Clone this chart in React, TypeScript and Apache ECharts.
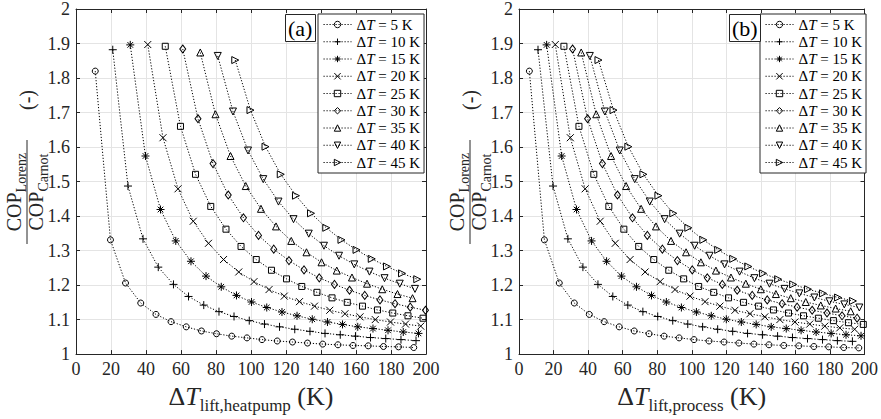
import { useEffect, useRef } from "react";
import * as echarts from "echarts";

// Temperature glides of the two streams (K)
const glides = [5, 10, 15, 20, 25, 30, 35, 40, 45];

// Heat-pump temperature lift (K) and COP_Lorenz / COP_Carnot for each glide
const lift5 = [11, 19.7, 28.3, 37, 45.7, 54.3, 63, 71.7, 80.3, 89, 97.7, 106.3, 115, 123.7, 132.3, 141, 149.7, 158.3, 167, 175.7, 184.3, 193, 201.7];
const cop5 = [1.82, 1.331, 1.206, 1.148, 1.115, 1.094, 1.079, 1.067, 1.059, 1.052, 1.047, 1.042, 1.038, 1.035, 1.032, 1.029, 1.027, 1.025, 1.024, 1.022, 1.021, 1.019, 1.018];

const lift10 = [21, 29.7, 38.3, 47, 55.7, 64.3, 73, 81.7, 90.3, 99, 107.7, 116.3, 125, 133.7, 142.3, 151, 159.7, 168.3, 177, 185.7, 194.3, 203];
const cop10 = [1.882, 1.487, 1.334, 1.252, 1.202, 1.167, 1.142, 1.123, 1.109, 1.097, 1.087, 1.079, 1.072, 1.066, 1.06, 1.056, 1.052, 1.048, 1.045, 1.042, 1.039, 1.037];

const lift15 = [31, 39.7, 48.3, 57, 65.7, 74.3, 83, 91.7, 100.3, 109, 117.7, 126.3, 135, 143.7, 152.3, 161, 169.7, 178.3, 187, 195.7, 204.3, 213];
const cop15 = [1.896, 1.574, 1.419, 1.328, 1.269, 1.226, 1.195, 1.17, 1.151, 1.135, 1.122, 1.111, 1.101, 1.093, 1.086, 1.079, 1.074, 1.069, 1.064, 1.06, 1.056, 1.053];

const lift20 = [41, 49.7, 58.3, 67, 75.7, 84.3, 93, 101.7, 110.3, 119, 127.7, 136.3, 145, 153.7, 162.3, 171, 179.7, 188.3, 197, 205.7, 214.3];
const cop20 = [1.897, 1.627, 1.479, 1.385, 1.321, 1.274, 1.238, 1.21, 1.187, 1.168, 1.152, 1.139, 1.127, 1.117, 1.108, 1.1, 1.093, 1.087, 1.081, 1.076, 1.072];

const lift25 = [51, 59.7, 68.3, 77, 85.7, 94.3, 103, 111.7, 120.3, 129, 137.7, 146.3, 155, 163.7, 172.3, 181, 189.7, 198.3, 207, 215.7, 224.3];
const cop25 = [1.892, 1.66, 1.521, 1.428, 1.362, 1.312, 1.274, 1.243, 1.218, 1.196, 1.179, 1.163, 1.15, 1.139, 1.128, 1.119, 1.111, 1.104, 1.097, 1.091, 1.086];

const lift30 = [61, 69.7, 78.3, 87, 95.7, 104.3, 113, 121.7, 130.3, 139, 147.7, 156.3, 165, 173.7, 182.3, 191, 199.7, 208.3, 217, 225.7];
const cop30 = [1.884, 1.682, 1.552, 1.461, 1.395, 1.344, 1.304, 1.271, 1.244, 1.221, 1.202, 1.185, 1.17, 1.157, 1.146, 1.136, 1.127, 1.119, 1.111, 1.104];

const lift35 = [71, 79.7, 88.3, 97, 105.7, 114.3, 123, 131.7, 140.3, 149, 157.7, 166.3, 175, 183.7, 192.3, 201, 209.7, 218.3, 227];
const cop35 = [1.874, 1.695, 1.574, 1.487, 1.421, 1.37, 1.328, 1.295, 1.266, 1.242, 1.222, 1.204, 1.188, 1.174, 1.162, 1.151, 1.141, 1.132, 1.124];

const lift40 = [81, 89.7, 98.3, 107, 115.7, 124.3, 133, 141.7, 150.3, 159, 167.7, 176.3, 185, 193.7, 202.3, 211, 219.7, 228.3, 237];
const cop40 = [1.864, 1.703, 1.59, 1.507, 1.442, 1.391, 1.349, 1.314, 1.285, 1.26, 1.239, 1.22, 1.204, 1.189, 1.176, 1.164, 1.153, 1.144, 1.135];

const lift45 = [91, 99.7, 108.3, 117, 125.7, 134.3, 143, 151.7, 160.3, 169, 177.7, 186.3, 195, 203.7, 212.3, 221, 229.7, 238.3];
const cop45 = [1.852, 1.707, 1.601, 1.521, 1.459, 1.408, 1.366, 1.331, 1.302, 1.276, 1.254, 1.234, 1.217, 1.202, 1.188, 1.176, 1.164, 1.154];

const lifts = [lift5, lift10, lift15, lift20, lift25, lift30, lift35, lift40, lift45];
const cops = [cop5, cop10, cop15, cop20, cop25, cop30, cop35, cop40, cop45];

const xTicks = { min: 0, max: 200, interval: 20 };
const yTicks = { min: 1, max: 2, interval: 0.1 };

const FONT = "'Liberation Serif', 'Times New Roman', serif";
const INK = "#262626";
const HOLLOW = "rgba(255,255,255,0)";
const DOTS = [1.2, 1.8];

// Marker shapes: o, +, *, x, square, diamond, up/down/right triangles
const markers = [
  "circle",
  "path://M5 0V10M0 5H10",
  "path://M5 0V10M0 5H10M1.5 1.5L8.5 8.5M8.5 1.5L1.5 8.5",
  "path://M0 0L10 10M10 0L0 10",
  "path://M0 0H10V10H0Z",
  "path://M5 0L10 7L5 14L0 7Z",
  "path://M5 0L10 9L0 9Z",
  "path://M0 0H10L5 9Z",
  "path://M0 0L9 5L0 10Z",
];
const markerSizes: any[] = [6, 8, 8, 7, 6, [6, 8], 7, 7, 7];

function xAxes(gridIndex: number, sub: string) {
  const common = {
    type: "value",
    gridIndex,
    ...xTicks,
    axisLine: { show: true, onZero: false, lineStyle: { color: INK, width: 1 } },
    axisTick: { show: true, inside: true, length: 4, lineStyle: { color: INK } },
  };
  return [
    {
      ...common,
      position: "bottom",
      axisLabel: { fontFamily: FONT, fontSize: 18, color: INK, margin: 6 },
      splitLine: { show: true, lineStyle: { color: "#e4e4e4", width: 1 } },
      name: `{d|Δ}{t|T}{s|${sub}}{k| (K)}`,
      nameLocation: "middle",
      nameGap: 18,
      nameTextStyle: {
        rich: {
          d: { fontFamily: FONT, fontSize: 26, color: INK, verticalAlign: "bottom", padding: [0, 0, 5, 0] },
          t: { fontFamily: FONT, fontSize: 26, color: INK, fontStyle: "italic", verticalAlign: "bottom", padding: [0, 0, 5, 0] },
          s: { fontFamily: FONT, fontSize: 17, color: INK, verticalAlign: "bottom" },
          k: { fontFamily: FONT, fontSize: 26, color: INK, verticalAlign: "bottom", padding: [0, 0, 5, 0] },
        },
      },
    },
    { ...common, position: "top", axisLabel: { show: false }, splitLine: { show: false } },
  ];
}

function yAxes(gridIndex: number) {
  const common = {
    type: "value",
    gridIndex,
    ...yTicks,
    axisLine: { show: true, onZero: false, lineStyle: { color: INK, width: 1 } },
    axisTick: { show: true, inside: true, length: 4, lineStyle: { color: INK } },
  };
  return [
    {
      ...common,
      position: "left",
      axisLabel: {
        fontFamily: FONT,
        fontSize: 18,
        color: INK,
        margin: 6,
        formatter: (v: number) => (Math.abs(v - Math.round(v)) < 1e-9 ? String(Math.round(v)) : v.toFixed(1)),
      },
      splitLine: { show: true, lineStyle: { color: "#e4e4e4", width: 1 } },
    },
    { ...common, position: "right", axisLabel: { show: false }, splitLine: { show: false } },
  ];
}

function copRatioLabel(cx: number) {
  const rich = {
    m: { fontFamily: FONT, fontSize: 20, fill: INK, verticalAlign: "bottom", padding: [0, 0, 4, 0] },
    s: { fontFamily: FONT, fontSize: 14, fill: INK, verticalAlign: "bottom" },
  };
  return {
    type: "group",
    x: cx,
    y: 192,
    rotation: Math.PI / 2,
    silent: true,
    children: [
      { type: "text", x: 0, y: -11, style: { text: "{m|COP}{s|Lorenz}", rich, align: "center", verticalAlign: "middle" } },
      { type: "line", shape: { x1: -52, y1: 0, x2: 52, y2: 0 }, style: { stroke: INK, lineWidth: 1 } },
      { type: "text", x: 0, y: 11, style: { text: "{m|COP}{s|Carnot}", rich, align: "center", verticalAlign: "middle" } },
      { type: "text", x: 92, y: 0, style: { text: "(-)", fontFamily: FONT, fontSize: 20, fill: INK, align: "center", verticalAlign: "middle" } },
    ],
  };
}

function legendFor(left: number) {
  return {
    data: glides.map(String),
    left,
    top: 14,
    orient: "vertical",
    itemWidth: 28,
    itemHeight: 8,
    itemGap: 2.25,
    padding: [3, 4, 3, 5],
    backgroundColor: "#fff",
    borderColor: INK,
    borderWidth: 1,
    borderRadius: 0,
    selectedMode: false,
    itemStyle: { color: HOLLOW, borderColor: "#000", borderWidth: 1 },
    lineStyle: { color: "#000", width: 1, type: DOTS },
    formatter: (name: string) => `{d|Δ}{t|T}{n| = ${name} K}`,
    textStyle: {
      lineHeight: 14,
      rich: {
        d: { fontFamily: FONT, fontSize: 15, color: "#000" },
        t: { fontFamily: FONT, fontSize: 15, color: "#000", fontStyle: "italic" },
        n: { fontFamily: FONT, fontSize: 15, color: "#000" },
      },
    },
  };
}

function panelTitle(text: string, left: number, top: number) {
  return {
    text,
    left,
    top,
    padding: [1, 3, 1, 3],
    borderColor: INK,
    borderWidth: 1,
    backgroundColor: "#fff",
    textStyle: { fontFamily: FONT, fontSize: 22, fontWeight: "normal", color: "#000", lineHeight: 26 },
  };
}

function buildSeries() {
  const out: any[] = [];
  glides.forEach((dT, i) => {
    const lift = lifts[i];
    const cop = cops[i];
    const common = {
      type: "line",
      name: String(dT),
      symbol: markers[i],
      symbolSize: markerSizes[i],
      showSymbol: true,
      silent: true,
      lineStyle: { color: "#000", width: 1, type: DOTS },
      itemStyle: { color: HOLLOW, borderColor: "#000", borderWidth: 1 },
      emphasis: { disabled: true },
      z: 3,
    };
    // Panel (a): against the heat-pump lift
    out.push({
      ...common,
      xAxisIndex: 0,
      yAxisIndex: 0,
      data: lift.map((L, j) => [L, cop[j]]).filter((p) => p[0] <= xTicks.max),
    });
    // Panel (b): against the process lift (heat-pump lift less the glide)
    out.push({
      ...common,
      xAxisIndex: 2,
      yAxisIndex: 2,
      data: lift.map((L, j) => [+(L - dT).toFixed(1), cop[j]]).filter((p) => p[0] <= xTicks.max),
    });
  });
  return out;
}

export default function App() {
  const ref = useRef<HTMLDivElement>(null);
  useEffect(() => {
    if (!ref.current) return;
    const chart = echarts.init(ref.current, null, { renderer: "svg" });
    chart.setOption({
      animation: false,
      backgroundColor: "#fff",
      title: [panelTitle("(a)", 285, 14), panelTitle("(b)", 729, 14)],
      grid: [
        { left: 76, top: 9, width: 350, height: 348 },
        { left: 519, top: 9, width: 349, height: 348 },
      ],
      xAxis: [...xAxes(0, "lift,heatpump"), ...xAxes(1, "lift,process")],
      yAxis: [...yAxes(0), ...yAxes(1)],
      legend: [legendFor(318), legendFor(760)],
      graphic: [copRatioLabel(27), copRatioLabel(470)],
      series: buildSeries(),
    });
    return () => chart.dispose();
  }, []);
  return <div ref={ref} style={{ position: "fixed", left: 0, top: 0, width: 881, height: 419 }} />;
}
